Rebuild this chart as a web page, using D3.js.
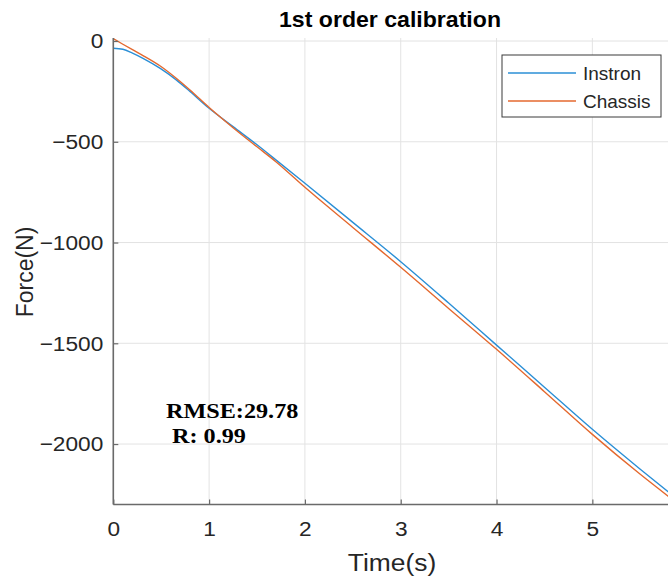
<!DOCTYPE html>
<html>
<head>
<meta charset="utf-8">
<script src="https://cdn.jsdelivr.net/npm/d3@7"></script>
<style>
  html, body { margin: 0; padding: 0; background: #fff; }
  svg { display: block; }
  .wide { transform-box: fill-box; }
</style>
</head>
<body>
<svg id="chart" width="668" height="578"></svg>
<script>
// Force traces (N) read at the listed times (s)
const instronTime  = [0, 0.1, 0.2, 0.31, 0.49, 0.66, 0.8, 1, 1.25, 1.5, 1.7, 2, 2.5, 3, 3.5, 4, 4.5, 5, 5.5, 5.8];
const instronForce = [-36, -41, -60, -86, -136, -194, -250, -334, -425, -515, -591, -706, -900, -1095, -1300, -1509, -1718, -1927, -2125, -2240];
const chassisTime  = [0, 0.1, 0.2, 0.31, 0.49, 0.66, 0.8, 1, 1.25, 1.5, 1.7, 2, 2.5, 3, 3.5, 4, 4.5, 5, 5.5, 5.8];
const chassisForce = [12, -16, -43, -72, -124, -186, -243, -330, -430, -525, -600, -726, -925, -1123, -1327, -1530, -1740, -1952, -2150, -2262];

const seriesNames = ["Instron", "Chassis"];
const seriesColors = ["#2b8fd6", "#e4692f"];

const xTicks = [0, 1, 2, 3, 4, 5];
const yTicks = [0, -500, -1000, -1500, -2000];

const titleText = "1st order calibration";
const xLabel = "Time(s)";
const yLabel = "Force(N)";
const statLines = ["RMSE:29.78", "R: 0.99"];

const svg = d3.select("#chart");
const plotLeft = 113.3, plotRight = 669, plotTop = 38, plotBottom = 504.5;

const x = d3.scaleLinear().domain([0, 5.8]).range([plotLeft, plotRight]);
const y = d3.scaleLinear().domain([-2300, 15]).range([plotBottom, plotTop]);

const axisColor = "#262626";
const sansFont = "'Liberation Sans', Arial, Helvetica, sans-serif";
const serifFont = "'Liberation Serif', 'Times New Roman', Times, serif";

// widen a text element horizontally around a chosen anchor side
function widen(sel, sx, origin) {
  sel.classed("wide", true)
    .style("transform-origin", origin)
    .style("transform", `scaleX(${sx})`);
  return sel;
}

// grid
const grid = svg.append("g").attr("stroke", "#e3e3e3").attr("stroke-width", 1);
xTicks.forEach(t => grid.append("line")
  .attr("x1", x(t)).attr("x2", x(t)).attr("y1", plotTop).attr("y2", plotBottom));
yTicks.forEach(t => grid.append("line")
  .attr("x1", plotLeft).attr("x2", plotRight).attr("y1", y(t)).attr("y2", y(t)));

// clip for the traces
svg.append("clipPath").attr("id", "plotClip")
  .append("rect").attr("x", plotLeft).attr("y", plotTop - 2)
  .attr("width", plotRight - plotLeft).attr("height", plotBottom - plotTop + 2);

const line = d3.line()
  .x(d => x(d[0])).y(d => y(d[1]))
  .curve(d3.curveMonotoneX);

const series = [
  d3.zip(instronTime, instronForce),
  d3.zip(chassisTime, chassisForce)
];

const traces = svg.append("g").attr("clip-path", "url(#plotClip)");
series.forEach((pts, i) => traces.append("path")
  .datum(pts)
  .attr("fill", "none")
  .attr("stroke", seriesColors[i])
  .attr("stroke-width", 1.4)
  .attr("d", line));

// axes (ticks point inward)
const xAxis = d3.axisBottom(x).tickValues(xTicks).tickSizeInner(-5).tickSizeOuter(0)
  .tickPadding(17).tickFormat(d3.format("d"));
const yAxis = d3.axisLeft(y).tickValues(yTicks).tickSizeInner(-5).tickSizeOuter(0)
  .tickPadding(10).tickFormat(d => d === 0 ? "0" : "\u2212" + Math.abs(d));

const gx = svg.append("g").attr("transform", `translate(0,${plotBottom})`).call(xAxis);
const gy = svg.append("g").attr("transform", `translate(${plotLeft},0)`).call(yAxis);

[gx, gy].forEach(g => {
  g.select(".domain").attr("stroke", "#6a6a6a").attr("stroke-width", 1.6);
  g.selectAll(".tick line").attr("stroke", "#6a6a6a").attr("stroke-width", 1.2);
  g.selectAll(".tick text").attr("fill", axisColor)
    .style("font-family", sansFont).style("font-size", "21px");
});
widen(gx.selectAll(".tick text"), 1.08, "center center");
widen(gy.selectAll(".tick text"), 1.08, "right center");
gx.select(".domain").attr("d", `M${plotLeft},0H${plotRight}`);
gy.select(".domain").attr("d", `M0,${plotTop}V${plotBottom}`);

// title and axis labels
widen(svg.append("text").attr("x", 390).attr("y", 27)
  .attr("text-anchor", "middle").attr("fill", "#000")
  .style("font-family", sansFont).style("font-weight", "bold").style("font-size", "22px")
  .text(titleText), 1.05, "center center");

widen(svg.append("text").attr("x", 392).attr("y", 571)
  .attr("text-anchor", "middle").attr("fill", axisColor)
  .style("font-family", sansFont).style("font-size", "24px")
  .text(xLabel), 1.1, "center center");

svg.append("text")
  .attr("transform", "translate(33,272) rotate(-90)")
  .attr("text-anchor", "middle").attr("fill", axisColor)
  .style("font-family", sansFont).style("font-size", "23px")
  .text(yLabel);

// legend
const lg = svg.append("g");
lg.append("rect").attr("x", 502).attr("y", 55).attr("width", 159).attr("height", 62)
  .attr("fill", "#fff").attr("stroke", "#3a3a3a").attr("stroke-width", 1);
seriesNames.forEach((name, i) => {
  const ly = 73 + i * 28;
  lg.append("line").attr("x1", 508).attr("x2", 576).attr("y1", ly).attr("y2", ly)
    .attr("stroke", seriesColors[i]).attr("stroke-width", 1.4);
  lg.append("text").attr("x", 583).attr("y", ly + 7).attr("fill", axisColor)
    .style("font-family", sansFont).style("font-size", "19px")
    .text(name);
});

// fit statistics
widen(svg.append("text").attr("x", 166).attr("y", 418).attr("fill", "#000")
  .style("font-family", serifFont).style("font-weight", "bold").style("font-size", "22px")
  .text(statLines[0]), 1.1, "left center");
widen(svg.append("text").attr("x", 172).attr("y", 443).attr("fill", "#000")
  .style("font-family", serifFont).style("font-weight", "bold").style("font-size", "22px")
  .text(statLines[1]), 1.1, "left center");
</script>
</body>
</html>
